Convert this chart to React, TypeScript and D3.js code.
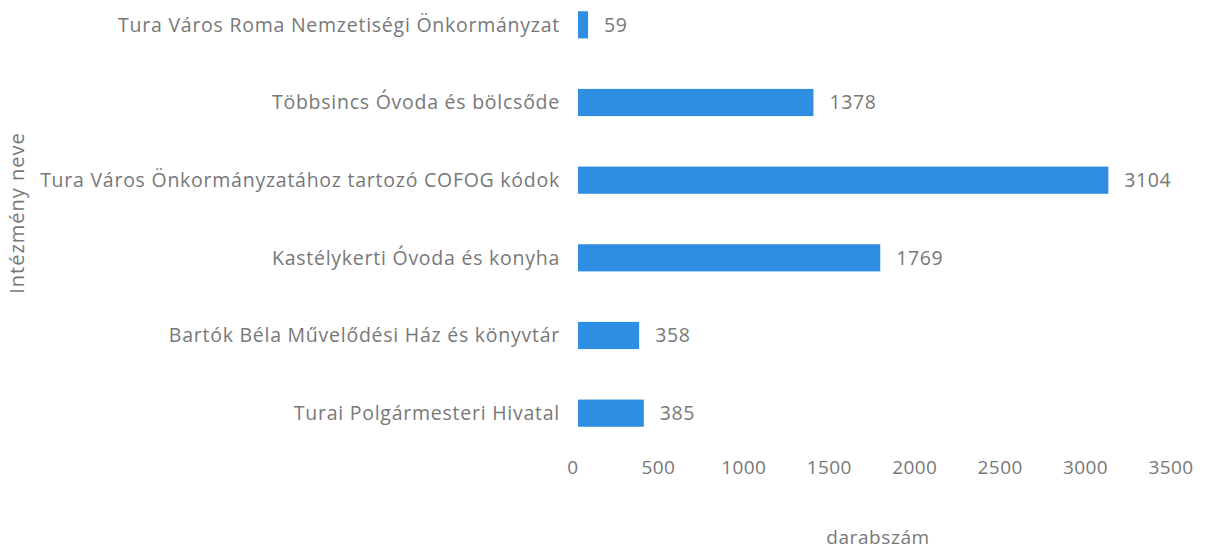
import React from "react";
import * as d3 from "d3";

const categories = [
  "Tura Város Roma Nemzetiségi Önkormányzat",
  "Többsincs Óvoda és bölcsőde",
  "Tura Város Önkormányzatához tartozó COFOG kódok",
  "Kastélykerti Óvoda és konyha",
  "Bartók Béla Művelődési Ház és könyvtár",
  "Turai Polgármesteri Hivatal",
];
const values = [59, 1378, 3104, 1769, 358, 385];
const xTicks = [0, 500, 1000, 1500, 2000, 2500, 3000, 3500];
const xTitle = "darabszám";
const yTitle = "Intézmény neve";

const W = 1210;
const H = 549;
const FONT = "'Open Sans', sans-serif";
const TEXT = "#787878";
const BAR = "#2e8fe2";

export default function App() {
  const x = d3.scaleLinear().domain([0, 3500]).range([578, 1176]);
  const y = d3
    .scaleBand<string>()
    .domain(categories)
    .range([-14, 452])
    .paddingInner(0.65)
    .paddingOuter(0.325);
  const bw = y.bandwidth();
  return (
    <svg
      width={W}
      height={H}
      style={{ position: "absolute", left: 0, top: 0, background: "#fff" }}
      fontFamily={FONT}
    >
      {categories.map((c, i) => {
        const yc = (y(c) as number) + bw / 2;
        return (
          <g key={c}>
            <rect x={x(0)} y={y(c)} width={x(values[i]) - x(0)} height={bw} fill={BAR} />
            <text
              x={560}
              y={yc}
              dy="0.35em"
              textAnchor="end"
              fontSize={19.5}
              letterSpacing={0.75}
              fill={TEXT}
            >
              {c}
            </text>
            <text x={x(values[i]) + 16} y={yc} dy="0.35em" fontSize={19.5} letterSpacing={0.6} fill={TEXT}>
              {values[i]}
            </text>
          </g>
        );
      })}
      {xTicks.map((t) => (
        <text key={t} x={x(t) - 5} y={467} dy="0.35em" textAnchor="middle" fontSize={19} letterSpacing={0.4} fill={TEXT}>
          {t}
        </text>
      ))}
      <text x={878} y={537} dy="0.35em" textAnchor="middle" fontSize={19} letterSpacing={0.6} fill={TEXT}>
        {xTitle}
      </text>
      <text
        transform={`translate(17,213) rotate(-90)`}
        dy="0.35em"
        textAnchor="middle"
        fontSize={20}
        letterSpacing={1}
        fill={TEXT}
      >
        {yTitle}
      </text>
    </svg>
  );
}
